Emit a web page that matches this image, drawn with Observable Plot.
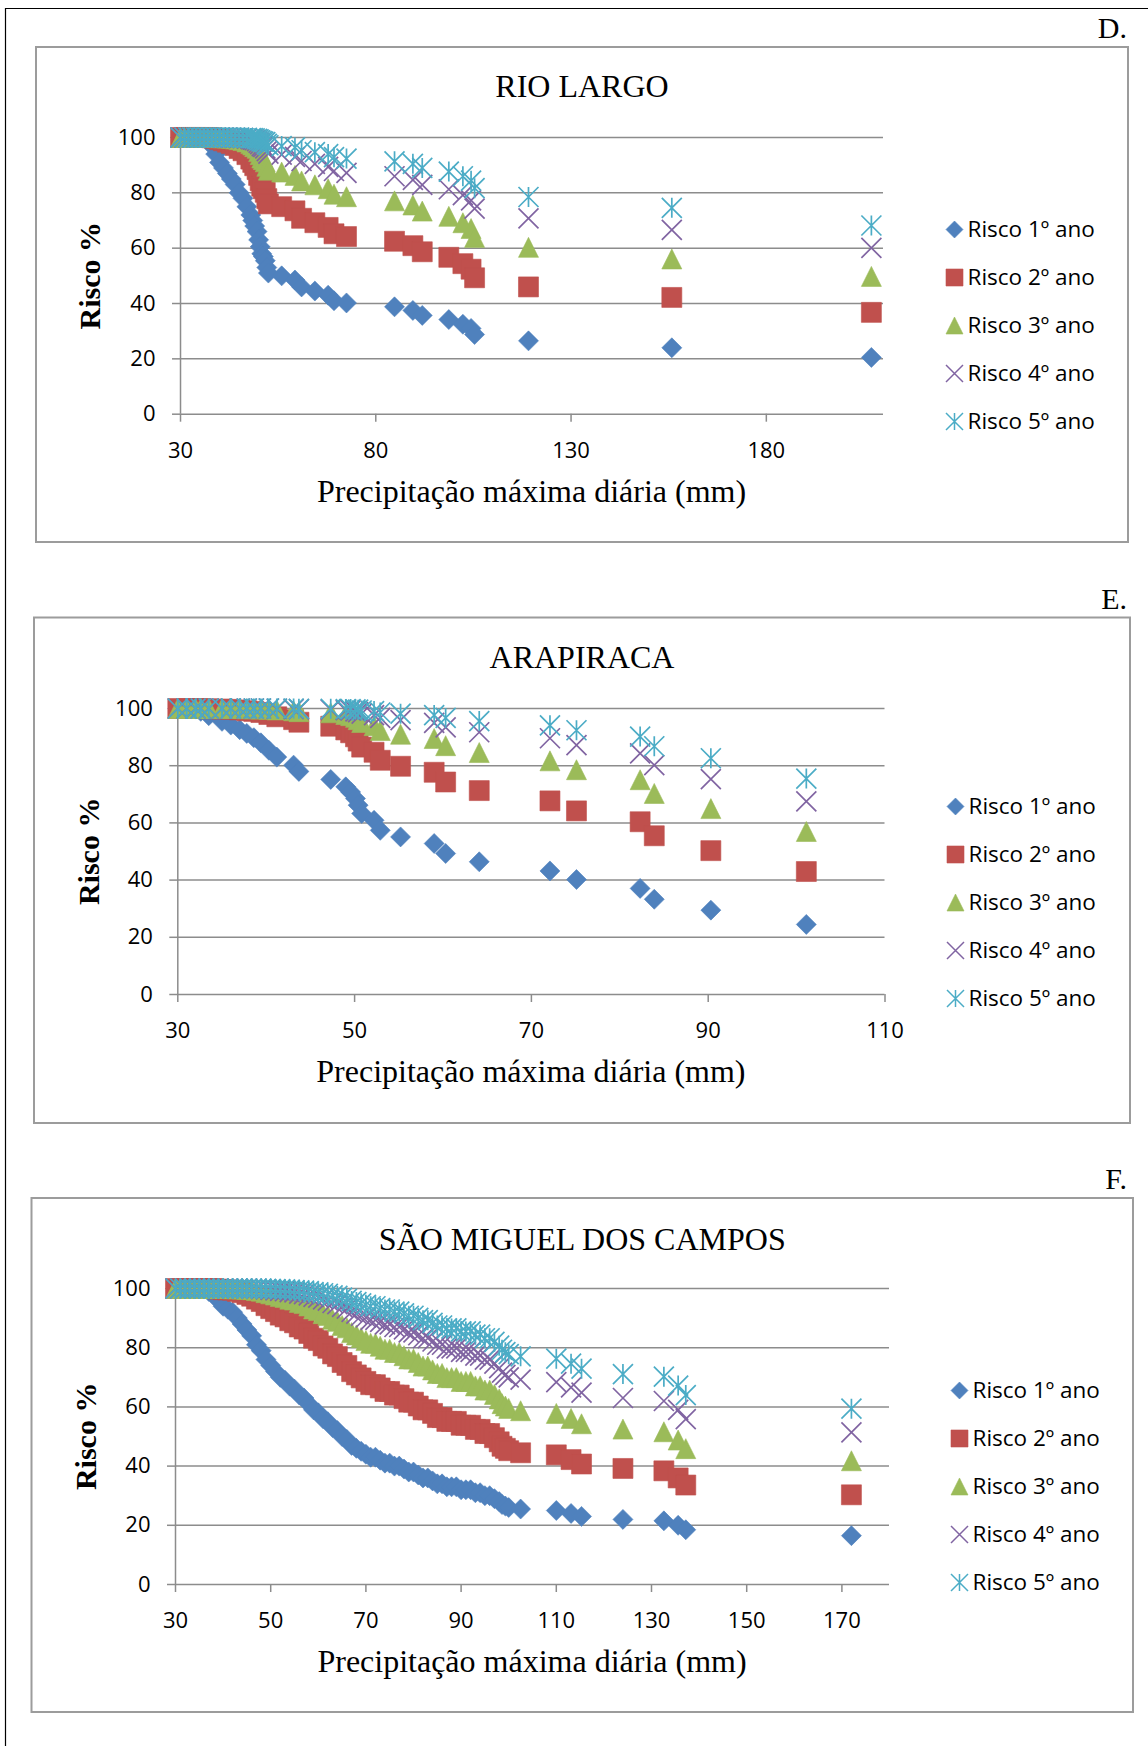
<!DOCTYPE html>
<html lang="pt">
<head>
<meta charset="utf-8">
<script src="https://cdn.jsdelivr.net/npm/d3@7"></script>
<script src="https://cdn.jsdelivr.net/npm/@observablehq/plot@0.6"></script>
<style>
html,body{margin:0;padding:0;background:#fff;}
body{position:relative;width:1148px;height:1746px;overflow:hidden;}
</style>
</head>
<body>
<script>
// ---------------- DATA ----------------
const seriesNames = ["Risco 1º ano","Risco 2º ano","Risco 3º ano","Risco 4º ano","Risco 5º ano"];
const panelLetters = ["D.","E.","F."];
const panelTitles = ["RIO LARGO","ARAPIRACA","SÃO MIGUEL DOS CAMPOS"];
const xAxisLabel = "Precipitação máxima diária (mm)";
const yAxisLabel = "Risco %";
const yTicks = [0,20,40,60,80,100];
const rioLargoTicksX = [30,80,130,180];
const arapiracaTicksX = [30,50,70,90,110];
const saoMiguelTicksX = [30,50,70,90,110,130,150,170];

// RIO LARGO
const rioLargoX = [30,31,32,33,34,35,36,37,38,39,40,41,42,43,44,45,46,47,48,48.5,49,49.6,50,50.4,50.8,51.2,51.7,52.1,52.5,55.9,59.3,61,64.4,67.8,69.3,72.5,84.8,89.5,91.9,98.7,102.3,104.4,105.3,119.1,155.8,206.9];
const rioLargoR1 = [100,100,100,100,100,100,99.8,99.3,97,94,91,89,87,85,83,80,78,75,72,70,68,66,63,60.5,58,57,55.5,53,51,50,48.5,46,44.5,43,41,40.2,38.8,37.5,35.7,34.2,32.5,31,28.8,26.5,24,20.5];
const rioLargoR2 = [100,100,100,100,100,100,100,100,99.9,99.6,99.2,98.8,98.3,97.8,97.1,96,95.2,93.8,92.2,91,89.8,88.4,86.3,84.4,82.4,81.5,80.2,77.9,76,75,73.5,70.8,69.2,67.5,65.2,64.2,62.5,60.9,58.7,56.7,54.4,52.4,49.3,46,42.2,36.8];
const rioLargoR3 = [100,100,100,100,100,100,100,100,100,100,99.9,99.9,99.8,99.7,99.5,99.2,98.9,98.4,97.8,97.3,96.7,96.1,94.9,93.8,92.6,92,91.2,89.6,88.2,87.5,86.3,84.3,82.9,81.5,79.5,78.6,77.1,75.6,73.4,71.5,69.2,67.1,63.9,60.3,56.1,49.8];
const rioLargoR4 = [100,100,100,100,100,100,100,100,100,100,100,100,100,99.9,99.9,99.8,99.8,99.6,99.4,99.2,99,98.7,98.1,97.6,96.9,96.6,96.1,95.1,94.2,93.8,93,91.5,90.5,89.4,87.9,87.2,86,84.7,82.9,81.3,79.2,77.3,74.3,70.8,66.6,60.1];
const rioLargoR5 = [100,100,100,100,100,100,100,100,100,100,100,100,100,100,100,100,99.9,99.9,99.8,99.8,99.7,99.5,99.3,99,98.7,98.5,98.3,97.7,97.2,96.9,96.4,95.4,94.7,94,92.9,92.4,91.4,90.5,89,87.7,86,84.4,81.7,78.5,74.6,68.2];

// ARAPIRACA
const arapiracaX = [30,31,32,32.6,33.5,35,36,37,37.8,38.6,39.4,40.3,41.2,43.1,43.7,47.3,49,49.55,50.1,50.4,50.8,52.2,52.9,55.2,59,60.3,64.1,72.1,75.1,82.3,83.9,90.3,101.1];
const arapiracaR1 = [100,100,99.8,99,97.5,95.5,94.2,92.6,91.3,89.8,88,85.4,83,80.2,78,75.2,72.6,70.8,68.5,66.2,63.3,60.9,57.4,55.1,52.8,49.3,46.4,43.2,40.2,37.1,33.3,29.5,24.5];
const arapiracaR2 = [100,100,100,100,99.9,99.8,99.7,99.5,99.2,99,98.6,97.9,97.1,96.1,95.2,93.8,92.5,91.5,90.1,88.6,86.5,84.7,81.9,79.8,77.7,74.3,71.3,67.7,64.2,60.4,55.5,50.3,43];
const arapiracaR3 = [100,100,100,100,100,100,100,100,99.9,99.9,99.8,99.7,99.5,99.2,98.9,98.5,97.9,97.5,96.9,96.1,95.1,94,92.3,91,89.5,87,84.6,81.7,78.6,75.1,70.3,65,57];
const arapiracaR4 = [100,100,100,100,100,100,100,100,100,100,100,100,99.9,99.8,99.8,99.6,99.4,99.3,99,98.7,98.2,97.7,96.7,95.9,95,93.4,91.7,89.6,87.2,84.3,80.2,75.3,67.5];
const arapiracaR5 = [100,100,100,100,100,100,100,100,100,100,100,100,100,100,99.9,99.9,99.8,99.8,99.7,99.6,99.3,99.1,98.6,98.2,97.7,96.7,95.6,94.1,92.4,90.2,86.8,82.6,75.5];

// SÃO MIGUEL DOS CAMPOS
const saoMiguelX = [30,31,32,33,34,35,36,37,38,39,40,41,42,43,44,45,46,47,48,49,50,51,52,53,54,55,56,57,58,59,60,61,62,63,64,65,66,67,68,69,70,71,72,73,74,75,76,77,78,79,80,81,82,83,84,85,86,87,88,89,90,91,92,93,94,95,96,97,98,98.6,99.3,100,102.5,110,113.1,115.3,124,132.6,135.6,137.2,172];
const saoMiguelR1 = [100,100,100,100,100,100,100,99,98,96,94,93,92,90,88,86,84,81,79,76,74,72,70,69,67,66,64,63,61,59,58,56,55,53,52,50,49,47,46,45,44,43,43,42,41,41,40,40,39,38,38,37,36,36,35,34,34,33,33,33,32,32,32,31,31,30,30,29,28,27,26.5,26,25.5,25,24,23,22,21.5,20,18.5,16.5];
const saoMiguelR2 = [100,100,100,100,100,100,100,100,100,99.8,99.6,99.5,99.4,99,98.6,98,97.4,96.4,95.6,94.2,93.2,92.2,91,90.4,89.1,88.4,87,86.3,84.8,83.2,82.4,80.6,79.8,77.9,77,75,74,71.9,70.8,69.8,68.6,67.5,67.5,66.4,65.2,65.2,64,64,62.8,61.6,61.6,60.3,59,59,57.8,56.4,56.4,55.1,55.1,55.1,53.8,53.8,53.8,52.4,52.4,51,51,49.6,48.2,46.7,46,45.2,44.5,43.8,42.2,40.7,39.2,38.4,36,33.6,30.3];
const saoMiguelR3 = [100,100,100,100,100,100,100,100,100,100,100,100,99.9,99.9,99.8,99.7,99.6,99.3,99.1,98.6,98.2,97.8,97.3,97,96.4,96.1,95.3,94.9,94.1,93.1,92.6,91.5,90.9,89.6,88.9,87.5,86.7,85.1,84.3,83.4,82.4,81.5,81.5,80.5,79.5,79.5,78.4,78.4,77.3,76.2,76.2,75,73.8,73.8,72.5,71.3,71.3,69.9,69.9,69.9,68.6,68.6,68.6,67.1,67.1,65.7,65.7,64.2,62.7,61.1,60.3,59.5,58.7,57.8,56.1,54.3,52.5,51.6,48.8,45.9,41.8];
const saoMiguelR4 = [100,100,100,100,100,100,100,100,100,100,100,100,100,100,100,100,99.9,99.9,99.8,99.7,99.5,99.4,99.2,99.1,98.8,98.7,98.3,98.1,97.7,97.2,96.9,96.3,95.9,95.1,94.7,93.8,93.2,92.1,91.5,90.8,90.2,89.4,89.4,88.7,87.9,87.9,87,87,86.2,85.2,85.2,84.2,83.2,83.2,82.1,81,81,79.8,79.8,79.8,78.6,78.6,78.6,77.3,77.3,76,76,74.6,73.1,71.6,70.8,70,69.2,68.4,66.6,64.8,63,62,59,55.9,51.4];
const saoMiguelR5 = [100,100,100,100,100,100,100,100,100,100,100,100,100,100,100,100,100,100,100,99.9,99.9,99.8,99.8,99.7,99.6,99.5,99.4,99.3,99.1,98.8,98.7,98.4,98.2,97.7,97.5,96.9,96.5,95.8,95.4,95,94.5,94,94,93.4,92.9,92.9,92.2,92.2,91.6,90.8,90.8,90.1,89.3,89.3,88.4,87.5,87.5,86.5,86.5,86.5,85.5,85.5,85.5,84.4,84.4,83.2,83.2,82,80.7,79.3,78.5,77.8,77.1,76.3,74.6,72.9,71.1,70.2,67.2,64,59.4];

// ---------------- STYLE / LAYOUT ----------------
const W = 1148, H = 1746;
const GRID = "#8c8c8c";
const BOX = "#9c9c9c";
const COLORS = ["#4F81BD","#C0504D","#9BBB59","#8064A2","#4BACC6"];
const rad = s => Math.sqrt(s / Math.PI);
const SYMBOLS = [
  {draw(c, s){const r=rad(s); c.moveTo(0,-r); c.lineTo(r,0); c.lineTo(0,r); c.lineTo(-r,0); c.closePath();}},
  {draw(c, s){const r=rad(s); c.moveTo(-r,-r); c.lineTo(r,-r); c.lineTo(r,r); c.lineTo(-r,r); c.closePath();}},
  {draw(c, s){const r=rad(s); c.moveTo(0,-r); c.lineTo(r,r); c.lineTo(-r,r); c.closePath();}},
  {draw(c, s){const r=rad(s); c.moveTo(-r,-r); c.lineTo(r,r); c.moveTo(-r,r); c.lineTo(r,-r);}},
  {draw(c, s){const r=rad(s); c.moveTo(-r,-r); c.lineTo(r,r); c.moveTo(-r,r); c.lineTo(r,-r); c.moveTo(0,-r); c.lineTo(0,r);}}
];
const MARK_STYLE = COLORS.map((col, k) => k < 3
  ? {fill: col, stroke: col, strokeWidth: 0.6}
  : {fill: "none", stroke: col, strokeWidth: 1.7});

const PANELS = [
  {x: rioLargoX, ys: [rioLargoR1,rioLargoR2,rioLargoR3,rioLargoR4,rioLargoR5], xTicks: rioLargoTicksX, xDomain: [30,210],
   box: [36,47,1128,542], plot: [180,137.3,883,414], titleY: 97, letterY: 37.5, xLabelY: 502, yLabelX: 89,
   legendRows: [228.5,421], legendX: 954},
  {x: arapiracaX, ys: [arapiracaR1,arapiracaR2,arapiracaR3,arapiracaR4,arapiracaR5], xTicks: arapiracaTicksX, xDomain: [30,110],
   box: [34,617.5,1130,1123], plot: [177.3,708.3,884.5,994.3], titleY: 667.5, letterY: 608.6, xLabelY: 1082, yLabelX: 88,
   legendRows: [805,998], legendX: 955},
  {x: saoMiguelX, ys: [saoMiguelR1,saoMiguelR2,saoMiguelR3,saoMiguelR4,saoMiguelR5], xTicks: saoMiguelTicksX, xDomain: [30,180],
   box: [31.5,1198,1133,1712], plot: [175,1288.3,889,1584.3], titleY: 1249.7, letterY: 1189, xLabelY: 1672, yLabelX: 85,
   legendRows: [1390,1582.3], legendX: 959}
];

const SANS = "'Open Sans', Lato, sans-serif";
const SERIF = "'Liberation Serif', 'DejaVu Serif', serif";

// ---------------- FRAME / TEXT LAYER ----------------
const layer = d3.select("body").append("svg")
  .attr("width", W).attr("height", H)
  .style("position","absolute").style("left","0px").style("top","0px");
layer.append("path").attr("d", `M5.5,${H}V8.5H${W}`).attr("fill","none").attr("stroke","#000").attr("stroke-width",1.2);

PANELS.forEach((P, idx) => {
  const [bl, bt, br, bb] = P.box;
  const [pl, pt, pr, pb] = P.plot;
  layer.append("rect").attr("x", bl).attr("y", bt).attr("width", br-bl).attr("height", bb-bt)
    .attr("fill","none").attr("stroke", BOX).attr("stroke-width", 2);
  layer.append("text").attr("x", (bl+br)/2).attr("y", P.titleY).attr("text-anchor","middle")
    .attr("font-family", SERIF).attr("font-size", 32).text(panelTitles[idx]);
  layer.append("text").attr("x", 1127).attr("y", P.letterY).attr("text-anchor","end")
    .attr("font-family", SERIF).attr("font-size", 30).text(panelLetters[idx]);
  layer.append("text").attr("x", (pl+pr)/2).attr("y", P.xLabelY).attr("text-anchor","middle")
    .attr("font-family", SERIF).attr("font-size", 32).text(xAxisLabel);
  layer.append("text").attr("transform", `translate(${P.yLabelX},${(pt+pb)/2}) rotate(-90)`)
    .attr("text-anchor","middle").attr("dominant-baseline","central")
    .attr("font-family", SERIF).attr("font-weight","bold").attr("font-size", 30)
    .text(yAxisLabel);
});

// ---------------- PLOTS ----------------
PANELS.forEach((P) => {
  const [pl, pt, pr, pb] = P.plot;
  const mt = 30, mb = 70;
  const marks = [
    Plot.ruleY(yTicks, {stroke: GRID, strokeWidth: 1.5}),
    Plot.ruleX([P.xDomain[0]], {stroke: GRID, strokeWidth: 1.5}),
    Plot.axisX({ticks: P.xTicks, tickSize: 8, tickPadding: 20, stroke: GRID, strokeWidth: 1.5, fill: "#000", label: null}),
    Plot.axisY({ticks: yTicks, tickSize: 8, tickPadding: 17, stroke: GRID, strokeWidth: 1.5, fill: "#000", label: null})
  ];
  P.ys.forEach((vals, k) => {
    const rows = P.x.map((x, i) => ({x, y: vals[i]}));
    marks.push(Plot.dot(rows, {x: "x", y: "y", symbol: SYMBOLS[k], r: 10, ...MARK_STYLE[k]}));
  });
  const chart = Plot.plot({
    width: W, height: (pb - pt) + mt + mb,
    marginLeft: pl, marginRight: W - pr, marginTop: mt, marginBottom: mb,
    x: {domain: P.xDomain},
    y: {domain: [0, 100]},
    style: {background: "transparent", fontFamily: SANS, fontSize: "22px", color: "#000", overflow: "visible"},
    marks
  });
  chart.style.position = "absolute";
  chart.style.left = "0px";
  chart.style.top = (pt - mt) + "px";
  document.body.appendChild(chart);

  // legend
  const [r0, r4] = P.legendRows;
  const lh = (r4 - r0) + 40;
  const lmarks = seriesNames.map((name, k) =>
    Plot.dot([name], {y: d => d, frameAnchor: "left", dx: 10, symbol: SYMBOLS[k], r: 8.5, ...MARK_STYLE[k], strokeWidth: k < 3 ? 0.6 : 1.5}));
  lmarks.push(Plot.text(seriesNames, {y: d => d, frameAnchor: "left", dx: 23, textAnchor: "start", fill: "#000"}));
  const legend = Plot.plot({
    width: 200, height: lh, margin: 0,
    y: {type: "point", domain: seriesNames, range: [20, lh - 20], padding: 0, axis: null},
    style: {background: "transparent", fontFamily: SANS, fontSize: "22.5px", color: "#000", overflow: "visible"},
    marks: lmarks
  });
  legend.style.position = "absolute";
  legend.style.left = (P.legendX - 10) + "px";
  legend.style.top = (r0 - 20) + "px";
  document.body.appendChild(legend);
});
</script>
</body>
</html>
